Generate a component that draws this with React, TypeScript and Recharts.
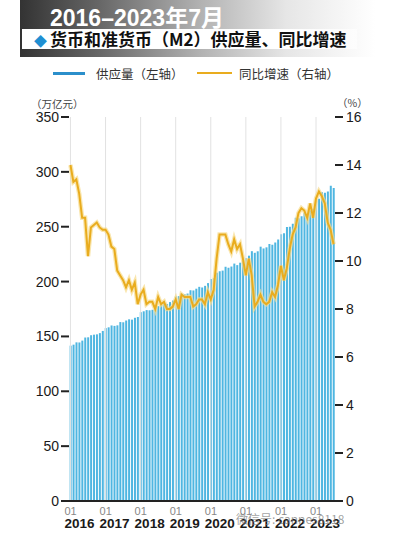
import React from "react";
import {
  ComposedChart,
  Bar,
  Line,
  XAxis,
  YAxis,
  ReferenceLine,
} from "recharts";

// M2 supply (trillion yuan) and YoY growth (%), monthly 2016-01 .. 2023-07
const years = [2016, 2017, 2018, 2019, 2020, 2021, 2022, 2023];

const m2Supply = [
  141.6, 142.5, 144.6, 144.5, 146.2, 149.0, 149.2, 151.1, 151.6, 151.9, 153.0, 155.0,
  157.6, 158.3, 160.0, 159.6, 160.1, 163.1, 162.9, 164.5, 165.6, 165.3, 167.0, 167.7,
  172.1, 172.9, 174.0, 173.8, 174.3, 177.0, 177.6, 178.9, 180.2, 179.6, 181.3, 182.7,
  186.6, 186.7, 188.9, 188.4, 189.1, 192.1, 191.9, 193.5, 195.2, 194.6, 196.1, 198.6,
  202.3, 203.1, 208.1, 209.4, 210.0, 213.5, 212.6, 213.7, 216.4, 215.0, 217.2, 218.7,
  221.3, 223.6, 227.7, 226.2, 227.6, 231.8, 230.2, 231.2, 234.3, 233.6, 235.6, 238.3,
  243.1, 244.1, 249.8, 249.9, 252.7, 258.1, 257.8, 259.5, 262.7, 261.2, 264.7, 266.4,
  273.8, 275.5, 281.5, 280.9, 282.1, 287.3, 285.4,
];

const yoyGrowth = [
  14.0, 13.3, 13.4, 12.8, 11.8, 11.8, 10.2, 11.4, 11.5, 11.6, 11.4, 11.3,
  11.3, 11.1, 10.6, 10.5, 9.6, 9.4, 9.2, 8.9, 9.2, 8.8, 9.1, 8.2,
  8.6, 8.8, 8.2, 8.3, 8.3, 8.0, 8.5, 8.2, 8.3, 8.0, 8.0, 8.1,
  8.4, 8.0, 8.6, 8.5, 8.5, 8.5, 8.1, 8.2, 8.4, 8.4, 8.2, 8.7,
  8.4, 8.8, 10.1, 11.1, 11.1, 11.1, 10.7, 10.4, 10.9, 10.5, 10.7, 10.1,
  9.4, 10.1, 9.4, 8.1, 8.3, 8.6, 8.3, 8.2, 8.3, 8.7, 8.5, 9.0,
  9.8, 9.2, 9.7, 10.5, 11.1, 11.4, 12.0, 12.2, 12.1, 11.8, 12.4, 11.8,
  12.6, 12.9, 12.7, 12.4, 11.6, 11.3, 10.7,
];

const leftTicks = [0, 50, 100, 150, 200, 250, 300, 350];
const rightTicks = [0, 2, 4, 6, 8, 10, 12, 14, 16];

const months = m2Supply.map((_, i) => {
  const y = years[0] + Math.floor(i / 12);
  const m = (i % 12) + 1;
  return `${y}-${m < 10 ? "0" + m : m}`;
});

const data = months.map((month, i) => ({
  month,
  supply: m2Supply[i],
  growth: yoyGrowth[i],
}));

const januaries = years.map((y) => `${y}-01`);

const NUM_FONT = "'Liberation Sans', Arial, sans-serif";
const CJK_FONT = "'Noto Sans CJK SC', 'Noto Sans', sans-serif";

const BLUE = "#2b8fcb";
const BAR_FILL = "#4fb6e1";
const ORANGE = "#e9ac1e";

const YearTick = (props: any) => {
  const { x, y, payload } = props;
  const [yr] = String(payload.value).split("-");
  // label starts a little left of the January bar
  const bx = x - 6;
  return (
    <g>
      <text x={bx} y={y + 6} fill="#888" fontSize={11} fontFamily={NUM_FONT} textAnchor="start">
        01
      </text>
      <text x={bx} y={y + 19} fill="#1a1a1a" fontSize={13.5} fontWeight="bold" fontFamily={NUM_FONT} textAnchor="start">
        {yr}
      </text>
    </g>
  );
};

export default function App() {
  return (
    <div style={{ position: "absolute", left: 0, top: 0, width: 395, height: 536, background: "#fff", overflow: "hidden" }}>
      {/* header banner */}
      <div
        style={{
          position: "absolute",
          left: 20,
          top: 0,
          width: 355,
          height: 57,
          background: "linear-gradient(to right, #333 0%, #666 22%, #b0b0b0 50%, #e6e6e6 75%, #ffffff 100%)",
        }}
      />
      <div
        style={{
          position: "absolute",
          left: 50,
          top: 2,
          color: "#fff",
          fontFamily: NUM_FONT,
          fontWeight: "bold",
          fontSize: 23,
          lineHeight: "28px",
          whiteSpace: "nowrap",
        }}
      >
        2016–2023<span style={{ fontFamily: CJK_FONT }}>年</span>7<span style={{ fontFamily: CJK_FONT }}>月</span>
      </div>
      <div
        style={{
          position: "absolute",
          left: 22,
          top: 29,
          width: 335,
          height: 20,
          background: "linear-gradient(to right, #ffffff 80%, rgba(255,255,255,0.6) 100%)",
        }}
      />
      <div
        style={{
          position: "absolute",
          left: 34,
          top: 28,
          fontFamily: CJK_FONT,
          fontWeight: "bold",
          fontSize: 17,
          lineHeight: "22px",
          color: "#111",
          whiteSpace: "nowrap",
        }}
      >
        <span style={{ color: "#1f8fd2", fontSize: 13, marginRight: 3 }}>◆</span>
        货币和准货币（M2）供应量、同比增速
      </div>

      {/* legend */}
      <div style={{ position: "absolute", left: 53, top: 72, width: 32, height: 3, background: BLUE }} />
      <div style={{ position: "absolute", left: 96, top: 64, fontFamily: CJK_FONT, fontSize: 12.5, color: "#333", whiteSpace: "nowrap" }}>
        供应量（左轴）
      </div>
      <div style={{ position: "absolute", left: 197, top: 72, width: 35, height: 2, background: ORANGE }} />
      <div style={{ position: "absolute", left: 239, top: 64, fontFamily: CJK_FONT, fontSize: 12.5, color: "#333", whiteSpace: "nowrap" }}>
        同比增速（右轴）
      </div>

      {/* axis units */}
      <div style={{ position: "absolute", left: 31, top: 96, fontFamily: CJK_FONT, fontSize: 10.5, color: "#444", whiteSpace: "nowrap" }}>
        （万亿元）
      </div>
      <div style={{ position: "absolute", left: 337, top: 95, fontFamily: CJK_FONT, fontSize: 10.5, color: "#444", whiteSpace: "nowrap" }}>
        （%）
      </div>

      <div style={{ position: "absolute", left: 0, top: 0 }}>
        <ComposedChart
          width={395}
          height={536}
          data={data}
          margin={{ top: 117, right: 0, bottom: 0, left: 0 }}
          barCategoryGap="22%"
        >
          {januaries.map((m) => (
            <ReferenceLine key={m} x={m} yAxisId="left" stroke="#e2e2e2" strokeWidth={1} />
          ))}
          <XAxis
            dataKey="month"
            ticks={januaries}
            interval={0}
            height={35}
            tick={<YearTick />}
            tickLine={false}
            axisLine={{ stroke: "#222", strokeWidth: 2 }}
          />
          <YAxis
            yAxisId="left"
            width={69}
            domain={[0, 350]}
            ticks={leftTicks}
            interval={0}
            axisLine={false}
            tickLine={{ stroke: "#222", strokeWidth: 2 }}
            tickSize={8}
            tickMargin={2}
            tick={{ fill: "#1a1a1a", fontSize: 14, fontFamily: NUM_FONT }}
          />
          <YAxis
            yAxisId="right"
            orientation="right"
            width={60}
            domain={[0, 16]}
            ticks={rightTicks}
            interval={0}
            axisLine={false}
            tickLine={{ stroke: "#222", strokeWidth: 2 }}
            tickSize={8}
            tickMargin={3}
            tick={{ fill: "#1a1a1a", fontSize: 14, fontFamily: NUM_FONT }}
          />
          <Bar yAxisId="left" dataKey="supply" fill={BAR_FILL} isAnimationActive={false} />
          <Line
            yAxisId="right"
            dataKey="growth"
            type="linear"
            stroke="#f7dc8c"
            strokeWidth={4.5}
            strokeOpacity={0.7}
            dot={false}
            activeDot={false}
            isAnimationActive={false}
          />
          <Line
            yAxisId="right"
            dataKey="growth"
            type="linear"
            stroke={ORANGE}
            strokeWidth={2}
            dot={false}
            activeDot={false}
            isAnimationActive={false}
          />
        </ComposedChart>
      </div>

      <div style={{ position: "absolute", left: 236, top: 510, fontFamily: CJK_FONT, fontSize: 12, color: "rgba(120,120,120,0.7)", whiteSpace: "nowrap" }}>
        微信号: cannes8118
      </div>
    </div>
  );
}
